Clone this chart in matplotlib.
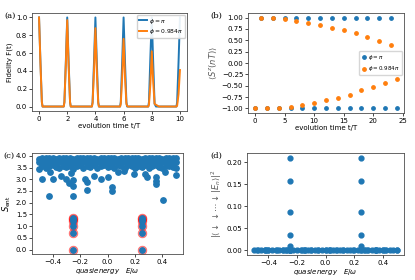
import matplotlib
matplotlib.use('Agg')
import matplotlib.pyplot as plt

# (a) fidelity vs time
t_a = [0.0, 0.1, 0.2, 0.25, 1.75, 1.8, 1.9, 2.0, 2.1, 2.2, 2.25, 3.75, 3.8, 3.9, 4.0, 4.1, 4.2, 4.25,
       5.75, 5.8, 5.9, 6.0, 6.1, 6.2, 6.25, 6.3, 7.75, 7.8, 7.9, 8.0, 8.1, 8.2, 8.3, 8.4, 8.5,
       9.75, 9.8, 9.9, 10.0]
fid_pi = [1.0, 0.5, 0.05, 0.0, 0.0, 0.05, 0.5, 1.0, 0.5, 0.05, 0.0, 0.0, 0.05, 0.5, 1.0, 0.5, 0.05, 0.0,
          0.0, 0.05, 0.5, 1.0, 0.5, 0.05, 0.0, 0.0, 0.0, 0.05, 0.55, 1.0, 0.5, 0.03, 0.0, 0.0, 0.0,
          0.0, 0.05, 0.5, 1.0]
fid_984 = [1.0, 0.48, 0.05, 0.0, 0.0, 0.05, 0.47, 0.97, 0.45, 0.05, 0.0, 0.0, 0.04, 0.4, 0.88, 0.4, 0.04, 0.0,
           0.0, 0.03, 0.33, 0.76, 0.33, 0.03, 0.01, 0.0, 0.0, 0.02, 0.25, 0.62, 0.28, 0.03, 0.02, 0.01, 0.0,
           0.0, 0.01, 0.14, 0.41]

# (b) magnetisation
t_b = list(range(25))
sz_pi = [-1, 1, -1, 1, -1, 1, -1, 1, -1, 1, -1, 1, -1,
         1, -1, 1, -1, 1, -1, 1, -1, 1, -1, 1, -1]
sz_984 = [-1.0, 1.0, -1.0, 0.99, -0.99, 0.96, -0.96, 0.93, -0.92, 0.885, -0.88, 0.84,
          -0.81, 0.78, -0.76, 0.72, -0.70, 0.65, -0.60, 0.57, -0.53, 0.48, -0.44,
          0.39, -0.35]

# (c)/(d) eigenstates: bulk band
band_x = [-0.5, -0.475, -0.45, -0.425, -0.4, -0.375, -0.35, -0.325, -0.3, -0.275,
          -0.25, -0.225, -0.2, -0.175, -0.15, -0.125, -0.1, -0.075, -0.05, -0.025,
          0.0, 0.025, 0.05, 0.075, 0.1, 0.125, 0.15, 0.175, 0.2, 0.225,
          0.25, 0.275, 0.3, 0.325, 0.35, 0.375, 0.4, 0.425, 0.45, 0.475, 0.5]
band_s1 = [3.88, 3.9, 3.89, 3.91, 3.9, 3.88, 3.9, 3.91, 3.89, 3.9,
           3.88, 3.9, 3.91, 3.9, 3.89, 3.9, 3.91, 3.88, 3.9, 3.9,
           3.91, 3.89, 3.9, 3.88, 3.9, 3.91, 3.9, 3.89, 3.9, 3.91,
           3.88, 3.9, 3.9, 3.89, 3.91, 3.9, 3.88, 3.9, 3.91, 3.89, 3.9]
band_s2 = [3.74, 3.72, 3.7, 3.75, 3.72, 3.69, 3.74, 3.72, 3.7, 3.75,
           3.71, 3.72, 3.69, 3.74, 3.72, 3.75, 3.7, 3.72, 3.74, 3.72,
           3.7, 3.73, 3.72, 3.75, 3.7, 3.72, 3.74, 3.72, 3.71, 3.75,
           3.72, 3.7, 3.74, 3.72, 3.73, 3.71, 3.72, 3.75, 3.72, 3.7, 3.74]
band_s3 = [3.45, 3.58, 3.5, 3.56, 3.6, 3.52, 3.46, 3.58, 3.52, 3.58,
           3.44, 3.56, 3.6, 3.48, 3.58, 3.54, 3.6, 3.48, 3.58, 3.6,
           3.54, 3.58, 3.5, 3.6, 3.55, 3.48, 3.6, 3.58, 3.46, 3.58,
           3.54, 3.6, 3.5, 3.58, 3.6, 3.54, 3.48, 3.58, 3.55, 3.52, 3.5]

# (c) outliers below the band
out_x = [-0.48, -0.4, -0.426, -0.34, -0.3, -0.28, -0.25, -0.25, -0.25, -0.266,
         -0.164, -0.147, -0.147, -0.1, -0.05, 0.006, 0.03, 0.03, 0.19, 0.27,
         0.29, 0.353, 0.353, 0.353, 0.5, 0.406, 0.08, 0.12, -0.42, 0.42]
out_s = [3.03, 3.0, 2.29, 3.15, 3.0, 2.83, 2.97, 2.71, 2.29, 3.28,
         3.0, 2.87, 2.52, 3.14, 3.0, 3.08, 2.68, 2.51, 3.22, 3.22,
         3.1, 3.11, 2.94, 2.78, 3.18, 2.12, 3.3, 3.35, 3.3, 3.32]

# special (cat-like) eigenstates at E = +-w/4
sp_x = [-0.25, -0.25, -0.25, -0.25, -0.25, -0.25, 0.25, 0.25, 0.25, 0.25, 0.25, 0.25]
sp_s = [0.0, 0.69, 1.0, 1.2, 1.3, 1.36, 0.0, 0.69, 1.0, 1.2, 1.3, 1.36]
sp_ov = [0.0, 0.009, 0.035, 0.088, 0.157, 0.21, 0.0, 0.009, 0.035, 0.088, 0.157, 0.21]

blue = '#1f77b4'
orange = '#ff7f0e'
fs = 5

fig = plt.figure(figsize=(4.15, 2.8), dpi=100)
W, H = 415.0, 280.0


def rect(l, t, r, b):
    return [l / W, 1 - b / H, (r - l) / W, (b - t) / H]


def style(ax):
    ax.tick_params(labelsize=fs, length=2, width=0.5, pad=1.5)
    for s in ax.spines.values():
        s.set_linewidth(0.6)
        s.set_color('0.3')


ax1 = fig.add_axes(rect(32, 13, 187, 111))
ax2 = fig.add_axes(rect(248, 13, 404, 113))
ax3 = fig.add_axes(rect(32, 153, 183, 254))
ax4 = fig.add_axes(rect(247, 153, 404, 255))

# (a)
ax1.plot(t_a, fid_pi, color=blue, lw=1.4, label=r'$\phi=\pi$')
ax1.plot(t_a, fid_984, color=orange, lw=1.4, label=r'$\phi=0.984\pi$')
ax1.set_xticks([0, 2, 4, 6, 8, 10])
ax1.set_yticks([0.0, 0.2, 0.4, 0.6, 0.8, 1.0])
ax1.set_xlabel('evolution time t/T', fontsize=fs, labelpad=1)
ax1.set_ylabel('Fidelity F(t)', fontsize=fs, labelpad=2)
ax1.legend(fontsize=4.3, loc='upper right', handlelength=1.3, borderpad=0.3,
           labelspacing=0.25, handletextpad=0.4, borderaxespad=0.3, framealpha=0.9)
style(ax1)

# (b)
ax2.scatter(t_b, sz_pi, s=6, color=blue, label=r'$\phi=\pi$')
ax2.scatter(t_b, sz_984, s=6, color=orange, label=r'$\phi=0.984\pi$')
ax2.set_xticks([0, 5, 10, 15, 20, 25])
ax2.set_yticks([-1.0, -0.75, -0.5, -0.25, 0.0, 0.25, 0.5, 0.75, 1.0])
ax2.set_xlabel('evolution time t/T', fontsize=fs, labelpad=1)
ax2.set_ylabel(r'$\langle S^z(nT)\rangle$', fontsize=6, color='0.35', labelpad=2)
ax2.legend(fontsize=4, loc='center right', scatterpoints=1, handlelength=1.0,
           borderpad=0.4, labelspacing=0.4, handletextpad=0.3, borderaxespad=0.4)
style(ax2)

# (c)
ax3.scatter(sp_x, sp_s, s=40, color='red', alpha=0.45, lw=0.5)
ax3.scatter(band_x + band_x + band_x + out_x + sp_x,
            band_s1 + band_s2 + band_s3 + out_s + sp_s, s=15, color=blue)
ax3.set_xlim(-0.55, 0.55)
ax3.set_ylim(-0.19, 4.12)
ax3.set_xticks([-0.4, -0.2, 0.0, 0.2, 0.4])
ax3.set_yticks([0.0, 0.5, 1.0, 1.5, 2.0, 2.5, 3.0, 3.5, 4.0])
ax3.set_xlabel(r'$quasienergy\quad E/\omega$', fontsize=fs, labelpad=1)
ax3.set_ylabel(r'$S_{\rm ent}$', fontsize=6, labelpad=2)
style(ax3)

# (d)
ax4.scatter(band_x + out_x + sp_x,
            [0.0] * (len(band_x) + len(out_x)) + sp_ov, s=12, color=blue)
ax4.set_xlim(-0.55, 0.55)
ax4.set_xticks([-0.4, -0.2, 0.0, 0.2, 0.4])
ax4.set_yticks([0.0, 0.05, 0.1, 0.15, 0.2])
ax4.set_xlabel(r'$quasienergy\quad E/\omega$', fontsize=fs, labelpad=1)
ax4.set_ylabel(r'$|\langle\downarrow\downarrow\cdots\downarrow|E_n\rangle|^2$',
               fontsize=6, color='0.35', labelpad=2)
style(ax4)

for lab, x, y in [('(a)', 4, 16), ('(b)', 210, 16), ('(c)', 3, 156), ('(d)', 210, 156)]:
    fig.text(x / W, 1 - y / H, lab, fontsize=6, family='DejaVu Serif', va='center')

fig.savefig('out.png', dpi=100)
